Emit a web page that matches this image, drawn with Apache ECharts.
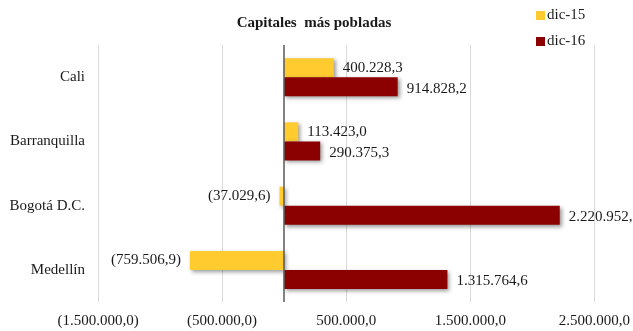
<!DOCTYPE html>
<html>
<head>
<meta charset="utf-8">
<script src="https://cdn.jsdelivr.net/npm/echarts@6/dist/echarts.min.js"></script>
<style>
  html, body { margin: 0; padding: 0; background: #fff; }
  #chart { width: 633px; height: 331px; }
</style>
</head>
<body>
<div id="chart"></div>
<script>
// Capitales más pobladas: variación dic-15 y dic-16
const categories = ['Cali', 'Barranquilla', 'Bogotá D.C.', 'Medellín'];
const dic15 = [400228.3, 113423.0, -37029.6, -759506.9];
const dic16 = [914828.2, 290375.3, 2220952.0, 1315764.6];
const seriesNames = ['dic-15', 'dic-16'];

const FONT = "'Liberation Serif', 'Times New Roman', serif";
const TEXT = '#1a1a1a';
const FS = 15;

// 1234567.8 -> "1.234.567,8"; negatives in parentheses
function fmt(v) {
  const abs = Math.abs(v).toFixed(1);
  const [ip, dp] = abs.split('.');
  const s = ip.replace(/\B(?=(\d{3})+(?!\d))/g, '.') + ',' + dp;
  return v < 0 ? '(' + s + ')' : s;
}

function withLabels(values, dy) {
  return values.map(v => ({
    value: v,
    label: { position: v < 0 ? 'left' : 'right', offset: [0, dy] }
  }));
}

const barShadow = {
  shadowColor: 'rgba(0,0,0,0.4)',
  shadowBlur: 4,
  shadowOffsetX: 2,
  shadowOffsetY: 2
};

const labelStyle = {
  show: true,
  distance: 9,
  fontFamily: FONT,
  fontSize: FS,
  color: TEXT,
  formatter: p => fmt(p.value)
};

const chart = echarts.init(document.getElementById('chart'));
chart.setOption({
  animation: false,
  backgroundColor: '#fff',
  title: {
    text: 'Capitales  más pobladas',
    left: 309,
    textAlign: 'center',
    top: 11,
    textStyle: { fontFamily: FONT, fontSize: FS, fontWeight: 'bold', color: TEXT }
  },
  legend: {
    orient: 'vertical',
    left: 531,
    top: 3,
    itemWidth: 9,
    itemHeight: 9,
    itemGap: 11,
    icon: 'rect',
    textStyle: { fontFamily: FONT, fontSize: FS, color: TEXT, padding: [0, 0, 0, -3] },
    data: seriesNames
  },
  grid: { left: 98, right: 38, top: 45, bottom: 29, containLabel: false },
  xAxis: {
    type: 'value',
    min: -1500000,
    max: 2500000,
    interval: 1000000,
    axisLine: { show: false },
    axisTick: { show: false },
    splitLine: { show: true, lineStyle: { color: '#d9d9d9', width: 1 } },
    axisLabel: { fontFamily: FONT, fontSize: FS, color: TEXT, margin: 12, formatter: v => fmt(v) }
  },
  yAxis: {
    type: 'category',
    inverse: true,
    data: categories,
    axisLine: { show: false },
    axisTick: { show: false },
    axisLabel: { fontFamily: FONT, fontSize: FS, color: TEXT, margin: 13 }
  },
  series: [
    {
      name: seriesNames[0],
      type: 'bar',
      barWidth: 19,
      barGap: '0%',
      itemStyle: Object.assign({ color: '#FFCB2F' }, barShadow),
      label: labelStyle,
      data: withLabels(dic15, 0),
      markLine: {
        silent: true,
        symbol: 'none',
        label: { show: false },
        lineStyle: { color: '#595959', width: 1.5, type: 'solid' },
        data: [{ xAxis: 0 }]
      }
    },
    {
      name: seriesNames[1],
      type: 'bar',
      barWidth: 19,
      barGap: '0%',
      itemStyle: Object.assign({ color: '#8B0000' }, barShadow),
      label: labelStyle,
      data: withLabels(dic16, 2)
    }
  ]
});
</script>
</body>
</html>
